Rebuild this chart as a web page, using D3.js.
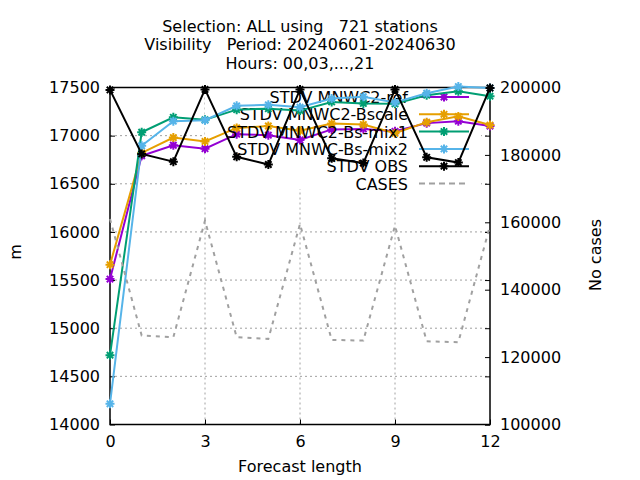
<!DOCTYPE html>
<html>
<head>
<meta charset="utf-8">
<script src="https://cdn.jsdelivr.net/npm/d3@7"></script>
<style>
    body { margin: 0; background: #fff; }
    svg text { font-family: "DejaVu Sans", sans-serif; font-size: 16px; fill: #000; white-space: pre; }
</style>
</head>
<body>
<div id="app"></div>
<script>
// forecast length (hours)
let hours = [0, 1, 2, 3, 4, 5, 6, 7, 8, 9, 10, 11, 12];
let stdvRef = [15510, 16790, 16900, 16865, 17015, 17005, 16955, 17065, 17070, 17045, 17130, 17150, 17100];
let stdvBscale = [15660, 16820, 16980, 16940, 17080, 17100, 17050, 17125, 17115, 17025, 17140, 17200, 17110];
let stdvMix1 = [14720, 17035, 17190, 17165, 17270, 17280, 17260, 17350, 17335, 17330, 17420, 17460, 17410];
let stdvMix2 = [14215, 16895, 17150, 17160, 17310, 17320, 17295, 17385, 17405, 17345, 17440, 17510, 17495];
let stdvObs = [17475, 16810, 16730, 17480, 16780, 16700, 17480, 16765, 16715, 17480, 16775, 16720, 17495];
let cases = [161000, 126400, 125900, 160500, 125900, 125400, 159500, 125100, 124900, 159000, 124700, 124400, 159000];

let xTicks = [0, 3, 6, 9, 12];
let yTicks = [14000, 14500, 15000, 15500, 16000, 16500, 17000, 17500];
let y2Ticks = [100000, 120000, 140000, 160000, 180000, 200000];
let titleLines = ["Selection: ALL using   721 stations", "Visibility   Period: 20240601-20240630", "Hours: 00,03,...,21"];

let series = [
    {name: "STDV MNWC2-ref", values: stdvRef, color: "#9400d3"},
    {name: "STDV MNWC2-Bscale", values: stdvBscale, color: "#e69f00"},
    {name: "STDV MNWC2-Bs-mix1", values: stdvMix1, color: "#009e73"},
    {name: "STDV MNWC-Bs-mix2", values: stdvMix2, color: "#56b4e9"},
    {name: "STDV OBS", values: stdvObs, color: "#000000"}
];

let W = 640, H = 480;
let pLeft = 110, pRight = 490, pTop = 87.5, pBottom = 424.5;

let svg = d3.select("#app").append("svg").attr("width", W).attr("height", H);

let x = d3.scaleLinear().domain([0, 12]).range([pLeft, pRight]);
let y = d3.scaleLinear().domain([14000, 17500]).range([pBottom, pTop]);
let y2 = d3.scaleLinear().domain([100000, 200000]).range([pBottom, pTop]);

// key area hides the grid
let keyBox = {x0: 205, x1: 481, y0: pTop, y1: 189};
svg.append("clipPath").attr("id", "gridclip")
    .append("path")
    .attr("clip-rule", "evenodd")
    .attr("d", `M${pLeft},${pTop}H${pRight}V${pBottom}H${pLeft}Z M${keyBox.x0},${keyBox.y0}H${keyBox.x1}V${keyBox.y1}H${keyBox.x0}Z`);

let grid = svg.append("g").attr("clip-path", "url(#gridclip)");
grid.selectAll("line.gx")
    .data(xTicks.slice(1, -1))
    .enter().append("line")
    .attr("class", "gx")
    .attr("x1", d => x(d)).attr("x2", d => x(d))
    .attr("y1", pTop).attr("y2", pBottom);
grid.selectAll("line.gy")
    .data(yTicks.slice(1, -1))
    .enter().append("line")
    .attr("class", "gy")
    .attr("x1", pLeft).attr("x2", pRight)
    .attr("y1", d => y(d)).attr("y2", d => y(d));
grid.selectAll("line")
    .attr("stroke", "#a0a0a0")
    .attr("stroke-width", 1)
    .attr("stroke-dasharray", "2,3");

// axes, ticks pointing inward
let styleAxis = function (g) {
    g.select(".domain").remove();
    g.selectAll(".tick line").attr("stroke", "#000").attr("stroke-width", 1);
    g.selectAll(".tick text").attr("font-family", "DejaVu Sans").attr("font-size", 16);
};
svg.append("g").attr("transform", `translate(${pLeft},0)`)
    .call(d3.axisLeft(y).tickValues(yTicks).tickSize(-5).tickPadding(10).tickFormat(d3.format("d")))
    .call(styleAxis);
svg.append("g").attr("transform", `translate(${pRight},0)`)
    .call(d3.axisLeft(y).tickValues(yTicks).tickSize(5).tickFormat(""))
    .call(styleAxis);
svg.append("g").attr("transform", `translate(${pRight},0)`)
    .call(d3.axisRight(y2).tickValues(y2Ticks).tickSize(-5).tickPadding(10).tickFormat(d3.format("d")))
    .call(styleAxis);
svg.append("g").attr("transform", `translate(0,${pBottom})`)
    .call(d3.axisBottom(x).tickValues(xTicks).tickSize(-5).tickPadding(11))
    .call(styleAxis);
svg.append("g").attr("transform", `translate(0,${pTop})`)
    .call(d3.axisTop(x).tickValues(xTicks).tickSize(-5).tickFormat(""))
    .call(styleAxis);

svg.append("rect")
    .attr("x", pLeft).attr("y", pTop)
    .attr("width", pRight - pLeft).attr("height", pBottom - pTop)
    .attr("fill", "none").attr("stroke", "#000").attr("stroke-width", 1.5);

// titles and labels
svg.append("g").selectAll("text")
    .data(titleLines)
    .enter().append("text")
    .attr("x", 300)
    .attr("y", (d, i) => 31.5 + i * 18.5)
    .attr("text-anchor", "middle")
    .text(d => d);

svg.append("text").attr("x", 300).attr("y", 472).attr("text-anchor", "middle").text("Forecast length");
svg.append("text").attr("transform", "translate(21,252) rotate(-90)").attr("text-anchor", "middle").text("m");
svg.append("text").attr("transform", "translate(601,255) rotate(-90)").attr("text-anchor", "middle").text("No cases");

let star = "M-4.5,0H4.5M0,-4.5V4.5M-3.2,-3.2L3.2,3.2M-3.2,3.2L3.2,-3.2";
let line = d3.line().x((d, i) => x(hours[i])).y(d => y(d));
let line2 = d3.line().x((d, i) => x(hours[i])).y(d => y2(d));

let keyRow = i => 97 + i * 17.3;
let keyText = 408, keyS0 = 419, keyS1 = 469;

series.forEach(function (s, k) {
    let ky = keyRow(k);
    svg.append("text").attr("x", keyText).attr("y", ky + 6).attr("text-anchor", "end").text(s.name);
    svg.append("line")
        .attr("x1", keyS0).attr("x2", keyS1).attr("y1", ky).attr("y2", ky)
        .attr("stroke", s.color).attr("stroke-width", 2);
    svg.append("path").attr("d", star)
        .attr("transform", `translate(${(keyS0 + keyS1) / 2},${ky})`)
        .attr("stroke", s.color).attr("stroke-width", 2).attr("fill", "none");

    let g = svg.append("g");
    g.append("path")
        .attr("d", line(s.values))
        .attr("fill", "none")
        .attr("stroke", s.color)
        .attr("stroke-width", 2);
    g.selectAll("path.pt")
        .data(s.values)
        .enter().append("path")
        .attr("class", "pt")
        .attr("d", star)
        .attr("transform", (d, i) => `translate(${x(hours[i])},${y(d)})`)
        .attr("stroke", s.color)
        .attr("stroke-width", 2)
        .attr("fill", "none");
});

// cases on the second axis
let ck = keyRow(5);
svg.append("text").attr("x", keyText).attr("y", ck + 6).attr("text-anchor", "end").text("CASES");
svg.append("line")
    .attr("x1", keyS0).attr("x2", keyS1).attr("y1", ck).attr("y2", ck)
    .attr("stroke", "#a0a0a0").attr("stroke-width", 2).attr("stroke-dasharray", "6,4");
svg.append("path")
    .attr("d", line2(cases))
    .attr("fill", "none")
    .attr("stroke", "#a0a0a0")
    .attr("stroke-width", 2)
    .attr("stroke-dasharray", "4,5");
</script>
</body>
</html>
